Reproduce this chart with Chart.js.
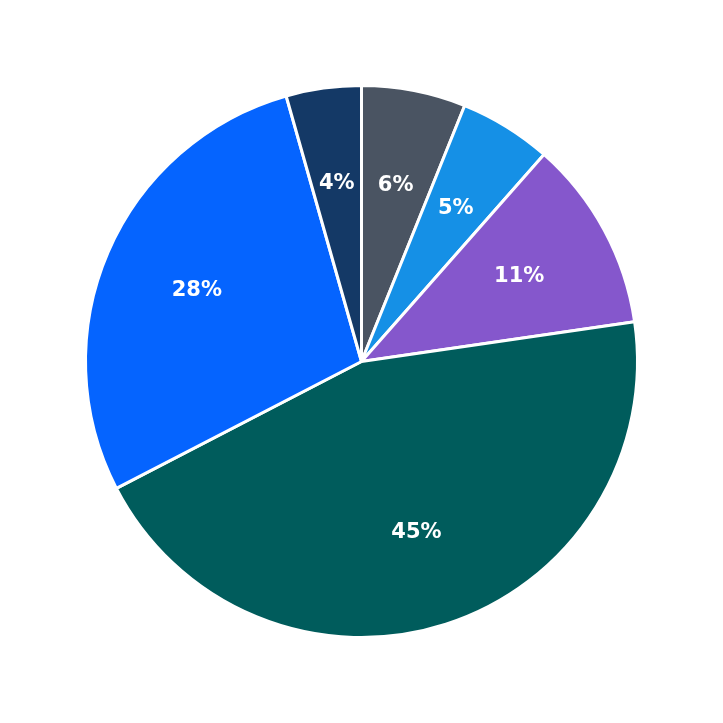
<!DOCTYPE html>
<html>
<head>
<meta charset="utf-8">
<script src="https://cdn.jsdelivr.net/npm/chart.js@4"></script>
<style>
  html, body { margin: 0; padding: 0; background: #fff; }
  #wrap { width: 723px; height: 723px; }
</style>
</head>
<body>
<div id="wrap"><canvas id="pie"></canvas></div>
<script>
// Datos del gráfico
var sliceLabels = ['A', 'B', 'C', 'D', 'E', 'F'];
var sliceValues = [6.1, 5.4, 11.2, 44.7, 28.2, 4.4];
var sliceColors = ['#4a5462', '#1590e6', '#8557cc', '#005c5c', '#0564ff', '#143966'];

// Etiquetas de porcentaje dentro de cada porción
var pctLabels = {
    id: 'pctLabels',
    afterDatasetsDraw: function(chart) {
        var ctx = chart.ctx;
        var total = sliceValues.reduce(function(a, b) { return a + b; }, 0);
        ctx.save();
        ctx.fillStyle = '#ffffff';
        ctx.font = 'bold 21px "DejaVu Sans"';
        ctx.textAlign = 'center';
        ctx.textBaseline = 'middle';
        chart.getDatasetMeta(0).data.forEach(function(arc, i) {
            var mid = (arc.startAngle + arc.endAngle) / 2;
            var r = arc.outerRadius * 0.65;
            var x = arc.x + Math.cos(mid) * r;
            var y = arc.y + Math.sin(mid) * r;
            ctx.fillText(Math.round(sliceValues[i] / total * 100) + '%', x, y);
        });
        ctx.restore();
    }
};

new Chart(document.getElementById('pie'), {
    type: 'pie',
    data: {
        labels: sliceLabels,
        datasets: [{
            data: sliceValues,
            backgroundColor: sliceColors,
            borderColor: '#ffffff',
            borderWidth: 3
        }]
    },
    options: {
        responsive: true,
        maintainAspectRatio: false,
        animation: false,
        layout: { padding: 84 },
        plugins: {
            legend: { display: false },
            tooltip: { enabled: false }
        }
    },
    plugins: [pctLabels]
});
</script>
</body>
</html>
